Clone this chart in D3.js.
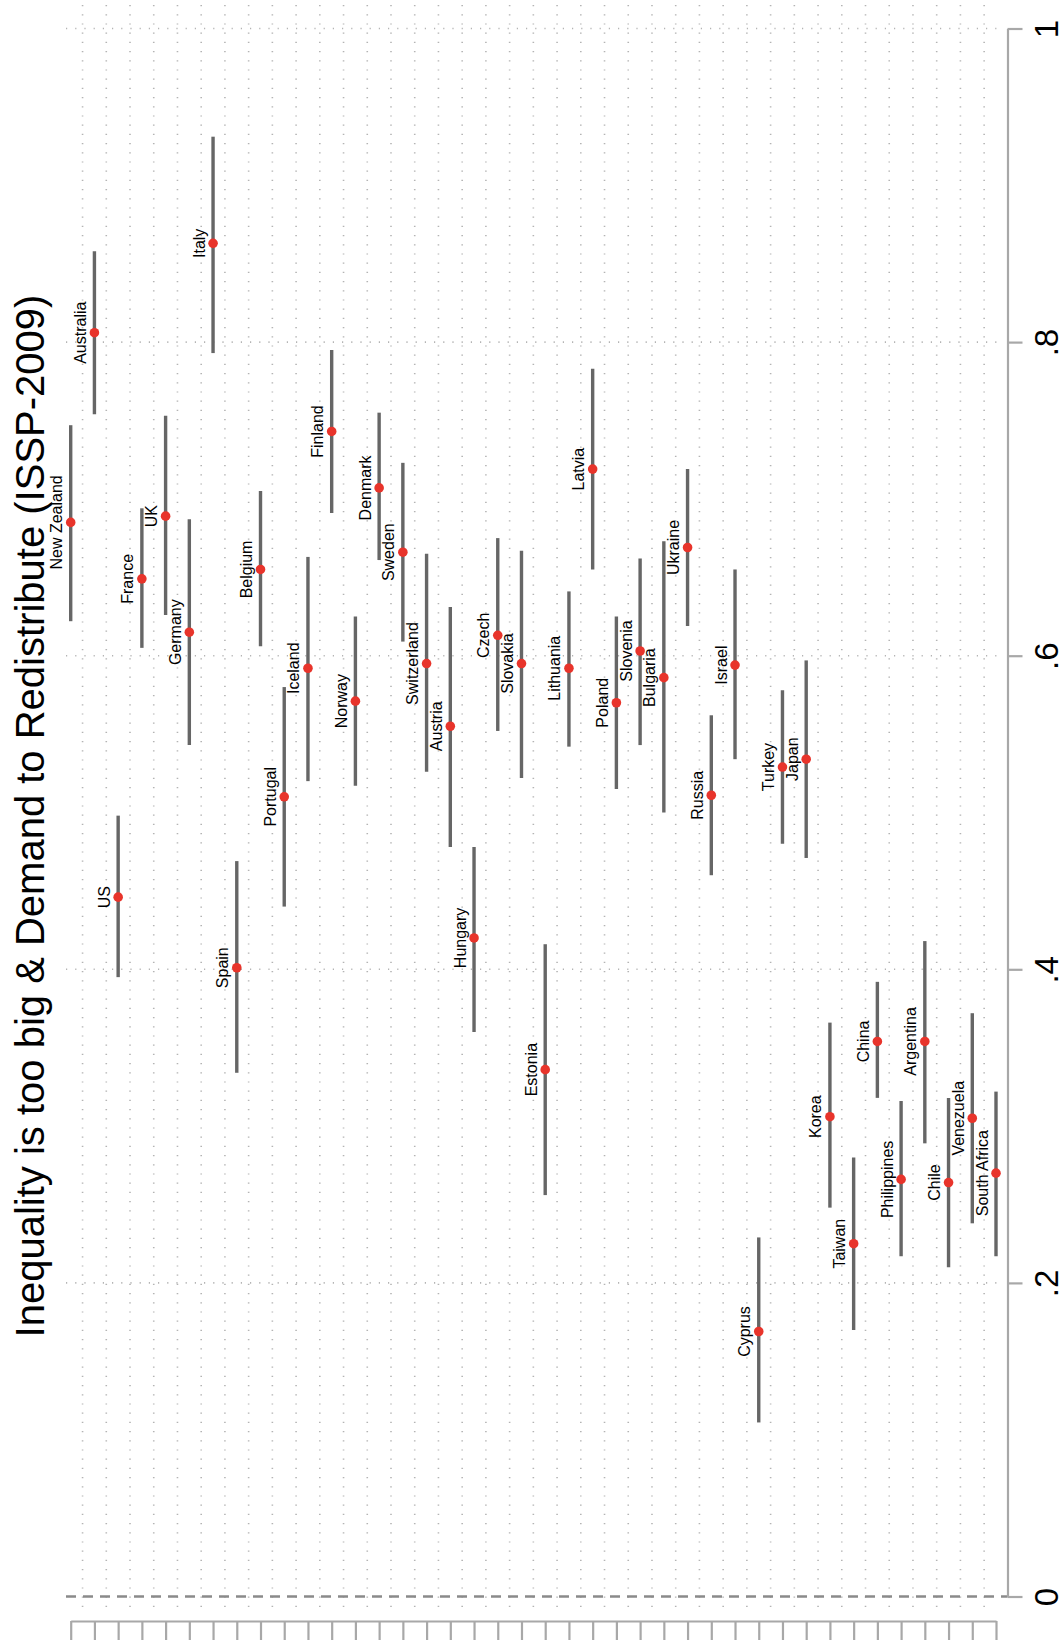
<!DOCTYPE html>
<html>
<head>
<meta charset="utf-8">
<script src="https://cdn.jsdelivr.net/npm/d3@7"></script>
<style>
  html, body { margin: 0; padding: 0; background: #fff; }
  svg { display: block; font-family: "Liberation Sans", Arial, Helvetica, sans-serif; }
</style>
</head>
<body>
<svg id="chart" width="1063" height="1640"></svg>
<script>
const titleText = "Inequality is too big & Demand to Redistribute (ISSP-2009)";

const countries = ["New Zealand","Australia","US","France","UK","Germany","Italy","Spain","Belgium","Portugal",
  "Iceland","Finland","Norway","Denmark","Sweden","Switzerland","Austria","Hungary","Czech","Slovakia",
  "Estonia","Lithuania","Latvia","Poland","Slovenia","Bulgaria","Ukraine","Russia","Israel","Cyprus",
  "Turkey","Japan","Korea","Taiwan","China","Philippines","Argentina","Chile","Venezuela","South Africa"];

const means = [0.685,0.806,0.446,0.649,0.689,0.615,0.863,0.401,0.655,0.510,
  0.592,0.743,0.571,0.707,0.666,0.595,0.555,0.420,0.613,0.595,
  0.336,0.592,0.719,0.570,0.603,0.586,0.669,0.511,0.594,0.169,
  0.529,0.534,0.306,0.225,0.354,0.266,0.354,0.264,0.305,0.270];

const upper = [0.747,0.858,0.498,0.694,0.753,0.687,0.931,0.469,0.705,0.580,
  0.663,0.795,0.625,0.755,0.723,0.665,0.631,0.478,0.675,0.667,
  0.416,0.641,0.783,0.625,0.662,0.673,0.719,0.562,0.655,0.229,
  0.578,0.597,0.366,0.280,0.392,0.316,0.418,0.318,0.372,0.322];

const lower = [0.622,0.754,0.395,0.605,0.626,0.543,0.793,0.334,0.606,0.440,
  0.520,0.691,0.517,0.661,0.609,0.526,0.478,0.360,0.552,0.522,
  0.256,0.542,0.655,0.515,0.543,0.500,0.619,0.460,0.534,0.111,
  0.480,0.471,0.248,0.170,0.318,0.217,0.289,0.210,0.238,0.217];

const valueTicks = [0, 0.2, 0.4, 0.6, 0.8, 1];
const valueTickLabels = ["0", ".2", ".4", ".6", ".8", "1"];
const gridValues = [0.2, 0.4, 0.6, 0.8, 1];

const svg = d3.select("#chart");

const x = d3.scalePoint().domain(countries).range([70.7, 996]);
const y = d3.scaleLinear().domain([0, 1]).range([1596.5, 28.5]);

const plotLeft = 66, axisX = 1007.5, catAxisY = 1621;

// vertical dotted grid between categories
const mids = countries.slice(0, -1).map((c, i) => (x(c) + x(countries[i + 1])) / 2);
svg.append("g").selectAll("line").data(mids).join("line")
  .attr("x1", d => d).attr("x2", d => d)
  .attr("y1", 5).attr("y2", 1612)
  .attr("stroke", "#b4b4b4").attr("stroke-width", 1.6)
  .attr("stroke-dasharray", "1.2 8");

// horizontal dotted grid
svg.append("g").selectAll("line").data(gridValues).join("line")
  .attr("x1", plotLeft).attr("x2", axisX - 8)
  .attr("y1", d => y(d)).attr("y2", d => y(d))
  .attr("stroke", "#b4b4b4").attr("stroke-width", 1.6)
  .attr("stroke-dasharray", "1.2 8");

// dashed zero line
svg.append("line")
  .attr("x1", plotLeft).attr("x2", axisX)
  .attr("y1", y(0)).attr("y2", y(0))
  .attr("stroke", "#8a8a8a").attr("stroke-width", 2.6)
  .attr("stroke-dasharray", "10 7");

// value axis (right)
const yAxis = d3.axisRight(y).tickValues(valueTicks)
  .tickFormat((d, i) => valueTickLabels[i]).tickSize(15).tickSizeOuter(0);
const gy = svg.append("g").attr("transform", `translate(${axisX},0)`).call(yAxis);
gy.select(".domain").attr("stroke", "#a8a8a8").attr("stroke-width", 2.2);
gy.selectAll(".tick line").attr("stroke", "#a8a8a8").attr("stroke-width", 2.2);
gy.selectAll(".tick text")
  .attr("x", null).attr("dy", null)
  .attr("transform", "translate(50,0) rotate(-90)")
  .attr("text-anchor", "middle")
  .attr("fill", "#000")
  .style("font-size", "33px")
  .style("font-family", "'Liberation Sans', Arial, sans-serif");

// category axis (bottom)
const xAxis = d3.axisBottom(x).tickSize(22).tickSizeOuter(0).tickFormat("");
const gx = svg.append("g").attr("transform", `translate(0,${catAxisY})`).call(xAxis);
gx.select(".domain").attr("stroke", "#a8a8a8").attr("stroke-width", 2.2);
gx.selectAll(".tick line").attr("stroke", "#a8a8a8").attr("stroke-width", 2.2);

// confidence bars
svg.append("g").selectAll("line").data(countries).join("line")
  .attr("x1", d => x(d)).attr("x2", d => x(d))
  .attr("y1", (d, i) => y(lower[i])).attr("y2", (d, i) => y(upper[i]))
  .attr("stroke", "#666666").attr("stroke-width", 3.4);

// points
svg.append("g").selectAll("circle").data(countries).join("circle")
  .attr("cx", d => x(d)).attr("cy", (d, i) => y(means[i]))
  .attr("r", 4.8).attr("fill", "#e8342b");

// country labels
svg.append("g").selectAll("text").data(countries).join("text")
  .attr("transform", (d, i) => `translate(${x(d) - 8.5},${y(means[i])}) rotate(-90)`)
  .attr("text-anchor", "middle")
  .style("font-size", "16px")
  .attr("fill", "#000")
  .text(d => d);

// title
svg.append("text")
  .attr("transform", "translate(43.5,816) rotate(-90)")
  .attr("text-anchor", "middle")
  .style("font-size", "40px")
  .attr("fill", "#000")
  .text(titleText);
</script>
</body>
</html>
